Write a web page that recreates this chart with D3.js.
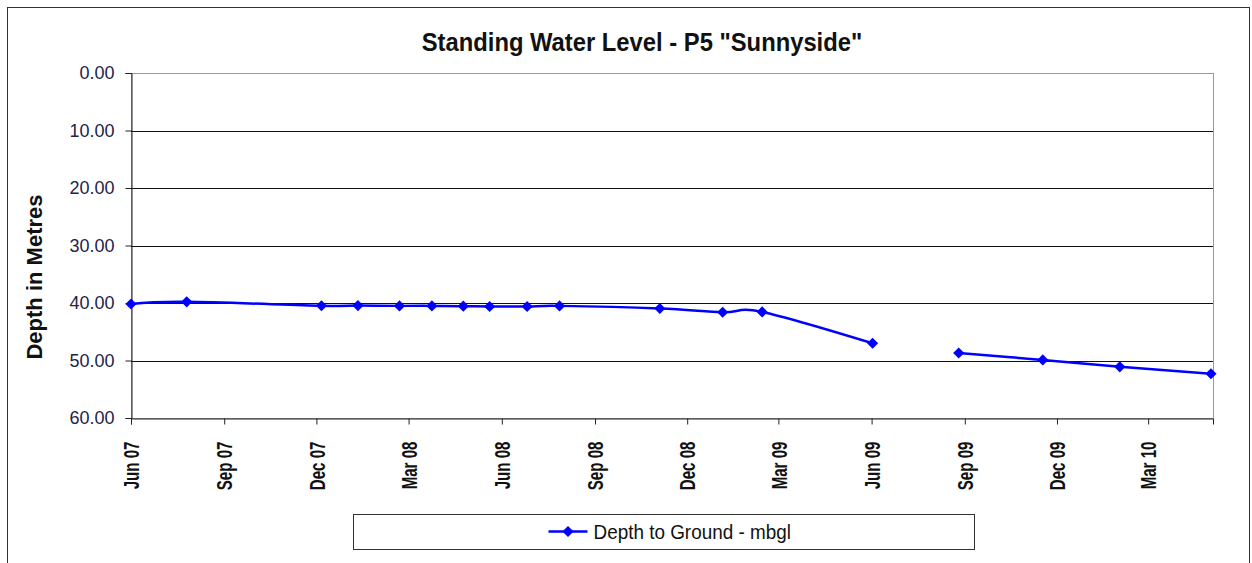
<!DOCTYPE html>
<html>
<head>
<meta charset="utf-8">
<script src="https://cdn.jsdelivr.net/npm/d3@7"></script>
<style>
  body { margin: 0; background: #fff; }
  svg { display: block; }
</style>
</head>
<body>
<svg id="chart" width="1252" height="563"></svg>
<script>
// readings (gap in Jul 09 = no reading)
var readDates = ["2007-06-01", "2007-07-26", "2007-12-06", "2008-01-11", "2008-02-21", "2008-03-24",
   "2008-04-24", "2008-05-20", "2008-06-26", "2008-07-28", "2008-11-04", "2009-01-05", "2009-02-13",
   "2009-06-02", "2009-07-20", "2009-08-26", "2009-11-17", "2010-02-01", "2010-05-02"]
var depths = [40.17, 39.8, 40.47, 40.45, 40.5, 40.5, 40.55, 40.6, 40.6, 40.5, 40.95, 41.6, 41.55,
   47.0, null, 48.7, 49.9, 51.1, 52.3]
var tickMonths = ["2007-06-01", "2007-09-01", "2007-12-01", "2008-03-01", "2008-06-01", "2008-09-01",
   "2008-12-01", "2009-03-01", "2009-06-01", "2009-09-01", "2009-12-01", "2010-03-01"]
var depthTicks = [0, 10, 20, 30, 40, 50, 60]
var xDomain = ["2007-06-01", "2010-05-04"]

var title = 'Standing Water Level - P5 "Sunnyside"'
var yTitle = "Depth in Metres"
var seriesName = "Depth to Ground - mbgl"

var parse = d3.timeParse("%Y-%m-%d")
var data = readDates.map((d, i) => ({ date: parse(d), depth: depths[i] }))

var plot = { left: 131, right: 1213, top: 73, bottom: 418 }
var font = "'Liberation Sans', Arial, sans-serif"
var svg = d3.select("#chart")

// outer chart frame
svg.append("rect")
   .attr("x", 7.5).attr("y", 7.5)
   .attr("width", 1242).attr("height", 600)
   .attr("fill", "#fff")
   .attr("stroke", "#333")

var xScale = d3.scaleTime().domain(xDomain.map(parse)).range([plot.left, plot.right])
var yScale = d3.scaleLinear().domain([0, 60]).range([plot.top, plot.bottom])

// plot area border
svg.append("rect")
   .attr("x", plot.left + 0.5).attr("y", plot.top + 0.5)
   .attr("width", plot.right - plot.left).attr("height", plot.bottom - plot.top)
   .attr("fill", "none")
   .attr("stroke", "#999")

// gridlines
svg.append("g")
   .selectAll("line")
   .data(depthTicks.filter(d => d > 0 && d < 60))
   .join("line")
   .attr("x1", plot.left).attr("x2", plot.right)
   .attr("y1", d => Math.round(yScale(d)) + 0.5)
   .attr("y2", d => Math.round(yScale(d)) + 0.5)
   .attr("stroke", "#111")

var yAxis = d3.axisLeft(yScale)
   .tickValues(depthTicks)
   .tickFormat(d3.format(".2f"))
   .tickSize(6)
   .tickPadding(11)
svg.append("g")
   .attr("transform", "translate(" + (plot.left + 0.5) + ",0)")
   .call(yAxis)
   .call(g => g.select(".domain").attr("stroke", "#222"))
   .call(g => g.selectAll(".tick line").attr("stroke", "#222"))
   .call(g => g.selectAll(".tick text")
      .attr("font-family", font)
      .attr("font-size", 18)
      .attr("fill", "#23234a"))

var xAxis = d3.axisBottom(xScale)
   .tickValues(tickMonths.map(parse))
   .tickFormat(d3.timeFormat("%b %y"))
   .tickSize(6)
svg.append("g")
   .attr("transform", "translate(0," + (plot.bottom + 0.5) + ")")
   .call(xAxis)
   .call(g => g.select(".domain").attr("stroke", "#222"))
   .call(g => g.selectAll(".tick line").attr("stroke", "#222"))
   .call(g => g.selectAll(".tick text")
      .attr("font-family", font)
      .attr("font-weight", "bold")
      .attr("font-size", 18)
      .attr("fill", "#111")
      .attr("text-anchor", "end")
      .attr("transform", "translate(0,23) rotate(-90) scale(0.84,1.2)")
      .attr("x", 0).attr("y", 0).attr("dy", "0.36em"))

// the series line (Excel smoothed line)
var line = d3.line()
   .defined(d => d.depth != null)
   .x(d => xScale(d.date))
   .y(d => yScale(d.depth))
   .curve(d3.curveCardinal)

svg.append("path")
   .datum(data)
   .attr("d", line)
   .attr("fill", "none")
   .attr("stroke", "#0000ff")
   .attr("stroke-width", 2.5)

var diamond = d3.symbol().type(d3.symbolSquare).size(62)
svg.append("g")
   .selectAll("path")
   .data(data.filter(d => d.depth != null))
   .join("path")
   .attr("d", diamond)
   .attr("transform", d => "translate(" + xScale(d.date) + "," + yScale(d.depth) + ") rotate(45)")
   .attr("fill", "#0000ff")

// titles
svg.append("text")
   .attr("transform", "translate(642,51) scale(0.915,1)")
   .attr("text-anchor", "middle")
   .attr("font-family", font)
   .attr("font-weight", "bold")
   .attr("font-size", 26)
   .attr("fill", "#111")
   .text(title)

svg.append("text")
   .attr("transform", "translate(42,277) rotate(-90)")
   .attr("text-anchor", "middle")
   .attr("font-family", font)
   .attr("font-weight", "bold")
   .attr("font-size", 22)
   .attr("fill", "#111")
   .text(yTitle)

// legend
var legend = svg.append("g").attr("transform", "translate(353.5,514.5)")
legend.append("rect")
   .attr("width", 621).attr("height", 35)
   .attr("fill", "#fff")
   .attr("stroke", "#333")
legend.append("line")
   .attr("x1", 195).attr("x2", 234)
   .attr("y1", 17).attr("y2", 17)
   .attr("stroke", "#0000ff").attr("stroke-width", 2.5)
legend.append("path")
   .attr("d", diamond)
   .attr("transform", "translate(214.5,17) rotate(45)")
   .attr("fill", "#0000ff")
legend.append("text")
   .attr("transform", "translate(240,24) scale(0.9,1)")
   .attr("font-family", font)
   .attr("font-size", 21)
   .attr("fill", "#111")
   .text(seriesName)
</script>
</body>
</html>
